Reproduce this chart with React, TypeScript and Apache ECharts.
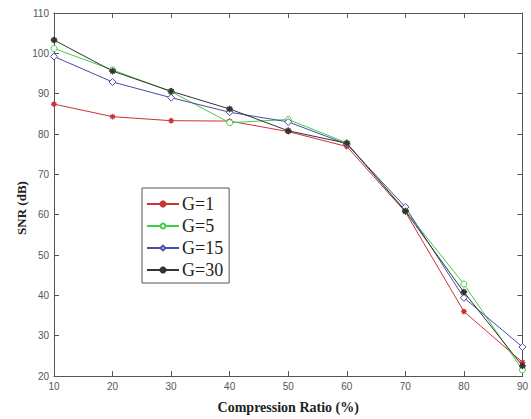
import React, { useEffect, useRef } from "react";
import * as echarts from "echarts";

const ratios = [10, 20, 30, 40, 50, 60, 70, 80, 90];
const g1 = [87.4, 84.3, 83.3, 83.2, 80.6, 76.9, 60.7, 36.0, 23.4];
const g5 = [101.2, 95.9, 90.5, 82.8, 83.6, 77.8, 61.0, 42.8, 21.5];
const g15 = [99.2, 92.9, 89.0, 85.4, 83.0, 77.5, 61.9, 39.4, 27.2];
const g30 = [103.3, 95.6, 90.6, 86.2, 80.8, 77.7, 60.9, 40.8, 22.5];
const seriesNames = ["G=1", "G=5", "G=15", "G=30"];

const asterisk =
  "path://M-0.6,-5L0.6,-5L0.6,5L-0.6,5Z M-5,-0.6L5,-0.6L5,0.6L-5,0.6Z M-3.9,-3.1L-3.1,-3.9L3.9,3.1L3.1,3.9Z M3.1,-3.9L3.9,-3.1L-3.1,3.9L-3.9,3.1Z";

export default function App() {
  const ref = useRef<HTMLDivElement>(null);
  useEffect(() => {
    const chart = echarts.init(ref.current!, null, { renderer: "svg" });
    const pair = (arr: number[]) => ratios.map((r, i) => [r, arr[i]]);
    const tickLabel = { color: "#555", fontFamily: "Liberation Sans", fontSize: 10 };
    const axisLine = { lineStyle: { color: "#555", width: 1 } };
    const mk = (name: string, data: number[], color: string, symbol: string, size: number, fill: string) => ({
      name,
      type: "line",
      data: pair(data),
      symbol,
      symbolSize: size,
      lineStyle: { color, width: 1 },
      itemStyle: { color: fill, borderColor: color, borderWidth: 1 },
      color,
    });
    chart.setOption({
      animation: false,
      backgroundColor: "#fff",
      grid: { left: 54, right: 2, top: 13, bottom: 36 },
      legend: {
        orient: "vertical",
        left: 142,
        top: 188,
        padding: [7, 6, 4, 4],
        itemWidth: 32,
        itemHeight: 6,
        itemGap: 4,
        backgroundColor: "#fff",
        borderColor: "#555",
        borderWidth: 1,
        data: seriesNames,
        textStyle: { fontFamily: "Liberation Serif", fontSize: 18, lineHeight: 18, color: "#222", padding: [0, 0, 0, -2] },
      },
      xAxis: [
        {
          type: "value",
          min: 10,
          max: 90,
          interval: 10,
          axisLine: { ...axisLine, onZero: false },
          axisTick: { inside: true, length: 5, lineStyle: { color: "#555" } },
          axisLabel: { ...tickLabel, margin: 5 },
          splitLine: { show: false },
          name: "Compression Ratio (%)",
          nameLocation: "middle",
          nameGap: 24,
          nameTextStyle: { fontFamily: "Liberation Serif", fontWeight: "bold", fontSize: 14, color: "#222" },
        },
        {
          type: "value",
          position: "top",
          min: 10,
          max: 90,
          interval: 10,
          axisLine: { ...axisLine, onZero: false },
          axisTick: { inside: true, length: 5, lineStyle: { color: "#555" } },
          axisLabel: { show: false },
          splitLine: { show: false },
        },
      ],
      yAxis: [
        {
          type: "value",
          min: 20,
          max: 110,
          interval: 10,
          axisLine: { ...axisLine, show: true, onZero: false },
          axisTick: { show: true, inside: true, length: 5, lineStyle: { color: "#555" } },
          axisLabel: { ...tickLabel, margin: 5 },
          splitLine: { show: false },
        },
        {
          type: "value",
          position: "right",
          min: 20,
          max: 110,
          interval: 10,
          axisLine: { ...axisLine, show: true, onZero: false },
          axisTick: { show: true, inside: true, length: 5, lineStyle: { color: "#555" } },
          axisLabel: { show: false },
          splitLine: { show: false },
        },
      ],
      graphic: [
        {
          type: "text",
          x: 21,
          y: 208,
          rotation: Math.PI / 2,
          style: {
            text: "SNR (dB)",
            fontFamily: "Liberation Serif",
            fontWeight: "bold",
            fontSize: 13,
            fill: "#222",
            align: "center",
            verticalAlign: "middle",
          },
        },
      ],
      series: [
        mk("G=1", g1, "#cc3333", asterisk, 5, "#dd2222"),
        mk("G=5", g5, "#44cc44", "circle", 6, "#ffffff"),
        mk("G=15", g15, "#4a4aa8", "diamond", 7, "#ffffff"),
        mk("G=30", g30, "#333333", asterisk, 6, "#222222"),
      ],
    });
    return () => chart.dispose();
  }, []);
  return <div ref={ref} style={{ width: 531, height: 419, position: "absolute", left: 0, top: 0 }} />;
}
